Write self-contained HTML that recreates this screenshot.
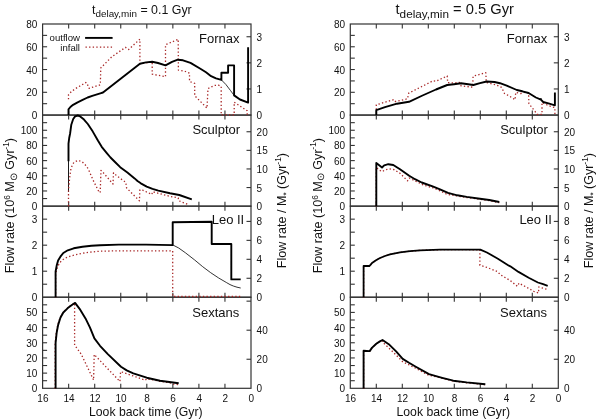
<!DOCTYPE html>
<html><head><meta charset="utf-8"><style>
html,body{margin:0;padding:0;background:#fff;}
svg{display:block;filter:blur(0.3px);}
text{font-family:"Liberation Sans", sans-serif;fill:#111;}
.t{font-size:10.0px;}
.n{font-size:13.0px;}
.xl{font-size:12.25px;}
.lg{font-size:9.6px;}
.ti{font-size:12.4px;}
.sb{font-size:9.9px;}
.yl{font-size:12.6px;}
.sp{font-size:8.2px;}
</style></head><body>
<svg width="600" height="419" viewBox="0 0 600 419">
<rect x="42.6" y="24.0" width="208.4" height="91.07" fill="none" stroke="#333" stroke-width="1.2"/>
<line x1="42.6" y1="103.69" x2="47.1" y2="103.69" stroke="#333" stroke-width="1.1"/>
<line x1="42.6" y1="92.30" x2="47.1" y2="92.30" stroke="#333" stroke-width="1.1"/>
<line x1="42.6" y1="80.92" x2="47.1" y2="80.92" stroke="#333" stroke-width="1.1"/>
<line x1="42.6" y1="69.53" x2="47.1" y2="69.53" stroke="#333" stroke-width="1.1"/>
<line x1="42.6" y1="58.15" x2="47.1" y2="58.15" stroke="#333" stroke-width="1.1"/>
<line x1="42.6" y1="46.77" x2="47.1" y2="46.77" stroke="#333" stroke-width="1.1"/>
<line x1="42.6" y1="35.38" x2="47.1" y2="35.38" stroke="#333" stroke-width="1.1"/>
<text x="37.40" y="119.07" text-anchor="end" class="t">0</text>
<text x="37.40" y="96.30" text-anchor="end" class="t">20</text>
<text x="37.40" y="73.53" text-anchor="end" class="t">40</text>
<text x="37.40" y="50.77" text-anchor="end" class="t">60</text>
<text x="37.40" y="28.00" text-anchor="end" class="t">80</text>
<line x1="246.5" y1="88.96" x2="251.0" y2="88.96" stroke="#333" stroke-width="1.1"/>
<line x1="246.5" y1="62.85" x2="251.0" y2="62.85" stroke="#333" stroke-width="1.1"/>
<line x1="246.5" y1="36.74" x2="251.0" y2="36.74" stroke="#333" stroke-width="1.1"/>
<text x="256.60" y="119.07" class="t">0</text>
<text x="256.60" y="92.96" class="t">1</text>
<text x="256.60" y="66.85" class="t">2</text>
<text x="256.60" y="40.74" class="t">3</text>
<line x1="224.95" y1="115.07" x2="224.95" y2="110.57" stroke="#333" stroke-width="1.1"/>
<line x1="224.95" y1="24.0" x2="224.95" y2="28.5" stroke="#333" stroke-width="1.1"/>
<line x1="198.90" y1="115.07" x2="198.90" y2="110.57" stroke="#333" stroke-width="1.1"/>
<line x1="198.90" y1="24.0" x2="198.90" y2="28.5" stroke="#333" stroke-width="1.1"/>
<line x1="172.85" y1="115.07" x2="172.85" y2="110.57" stroke="#333" stroke-width="1.1"/>
<line x1="172.85" y1="24.0" x2="172.85" y2="28.5" stroke="#333" stroke-width="1.1"/>
<line x1="146.80" y1="115.07" x2="146.80" y2="110.57" stroke="#333" stroke-width="1.1"/>
<line x1="146.80" y1="24.0" x2="146.80" y2="28.5" stroke="#333" stroke-width="1.1"/>
<line x1="120.75" y1="115.07" x2="120.75" y2="110.57" stroke="#333" stroke-width="1.1"/>
<line x1="120.75" y1="24.0" x2="120.75" y2="28.5" stroke="#333" stroke-width="1.1"/>
<line x1="94.70" y1="115.07" x2="94.70" y2="110.57" stroke="#333" stroke-width="1.1"/>
<line x1="94.70" y1="24.0" x2="94.70" y2="28.5" stroke="#333" stroke-width="1.1"/>
<line x1="68.65" y1="115.07" x2="68.65" y2="110.57" stroke="#333" stroke-width="1.1"/>
<line x1="68.65" y1="24.0" x2="68.65" y2="28.5" stroke="#333" stroke-width="1.1"/>
<text x="199.00" y="43.00" class="n">Fornax</text>
<rect x="42.6" y="115.08" width="208.4" height="91.07" fill="none" stroke="#333" stroke-width="1.2"/>
<line x1="42.6" y1="198.56" x2="47.1" y2="198.56" stroke="#333" stroke-width="1.1"/>
<line x1="42.6" y1="190.97" x2="47.1" y2="190.97" stroke="#333" stroke-width="1.1"/>
<line x1="42.6" y1="183.38" x2="47.1" y2="183.38" stroke="#333" stroke-width="1.1"/>
<line x1="42.6" y1="175.79" x2="47.1" y2="175.79" stroke="#333" stroke-width="1.1"/>
<line x1="42.6" y1="168.20" x2="47.1" y2="168.20" stroke="#333" stroke-width="1.1"/>
<line x1="42.6" y1="160.61" x2="47.1" y2="160.61" stroke="#333" stroke-width="1.1"/>
<line x1="42.6" y1="153.03" x2="47.1" y2="153.03" stroke="#333" stroke-width="1.1"/>
<line x1="42.6" y1="145.44" x2="47.1" y2="145.44" stroke="#333" stroke-width="1.1"/>
<line x1="42.6" y1="137.85" x2="47.1" y2="137.85" stroke="#333" stroke-width="1.1"/>
<line x1="42.6" y1="130.26" x2="47.1" y2="130.26" stroke="#333" stroke-width="1.1"/>
<line x1="42.6" y1="122.67" x2="47.1" y2="122.67" stroke="#333" stroke-width="1.1"/>
<text x="37.40" y="210.15" text-anchor="end" class="t">0</text>
<text x="37.40" y="194.97" text-anchor="end" class="t">20</text>
<text x="37.40" y="179.79" text-anchor="end" class="t">40</text>
<text x="37.40" y="164.61" text-anchor="end" class="t">60</text>
<text x="37.40" y="149.44" text-anchor="end" class="t">80</text>
<text x="37.40" y="134.26" text-anchor="end" class="t">100</text>
<line x1="246.5" y1="187.55" x2="251.0" y2="187.55" stroke="#333" stroke-width="1.1"/>
<line x1="246.5" y1="168.95" x2="251.0" y2="168.95" stroke="#333" stroke-width="1.1"/>
<line x1="246.5" y1="150.35" x2="251.0" y2="150.35" stroke="#333" stroke-width="1.1"/>
<line x1="246.5" y1="131.75" x2="251.0" y2="131.75" stroke="#333" stroke-width="1.1"/>
<text x="256.60" y="210.15" class="t">0</text>
<text x="256.60" y="191.55" class="t">5</text>
<text x="256.60" y="172.95" class="t">10</text>
<text x="256.60" y="154.35" class="t">15</text>
<text x="256.60" y="135.75" class="t">20</text>
<line x1="224.95" y1="206.14999999999998" x2="224.95" y2="201.64999999999998" stroke="#333" stroke-width="1.1"/>
<line x1="224.95" y1="115.08" x2="224.95" y2="119.58" stroke="#333" stroke-width="1.1"/>
<line x1="198.90" y1="206.14999999999998" x2="198.90" y2="201.64999999999998" stroke="#333" stroke-width="1.1"/>
<line x1="198.90" y1="115.08" x2="198.90" y2="119.58" stroke="#333" stroke-width="1.1"/>
<line x1="172.85" y1="206.14999999999998" x2="172.85" y2="201.64999999999998" stroke="#333" stroke-width="1.1"/>
<line x1="172.85" y1="115.08" x2="172.85" y2="119.58" stroke="#333" stroke-width="1.1"/>
<line x1="146.80" y1="206.14999999999998" x2="146.80" y2="201.64999999999998" stroke="#333" stroke-width="1.1"/>
<line x1="146.80" y1="115.08" x2="146.80" y2="119.58" stroke="#333" stroke-width="1.1"/>
<line x1="120.75" y1="206.14999999999998" x2="120.75" y2="201.64999999999998" stroke="#333" stroke-width="1.1"/>
<line x1="120.75" y1="115.08" x2="120.75" y2="119.58" stroke="#333" stroke-width="1.1"/>
<line x1="94.70" y1="206.14999999999998" x2="94.70" y2="201.64999999999998" stroke="#333" stroke-width="1.1"/>
<line x1="94.70" y1="115.08" x2="94.70" y2="119.58" stroke="#333" stroke-width="1.1"/>
<line x1="68.65" y1="206.14999999999998" x2="68.65" y2="201.64999999999998" stroke="#333" stroke-width="1.1"/>
<line x1="68.65" y1="115.08" x2="68.65" y2="119.58" stroke="#333" stroke-width="1.1"/>
<text x="192.45" y="134.38" class="n">Sculptor</text>
<rect x="42.6" y="206.15" width="208.4" height="91.07" fill="none" stroke="#333" stroke-width="1.2"/>
<line x1="42.6" y1="284.21" x2="47.1" y2="284.21" stroke="#333" stroke-width="1.1"/>
<line x1="42.6" y1="271.20" x2="47.1" y2="271.20" stroke="#333" stroke-width="1.1"/>
<line x1="42.6" y1="258.19" x2="47.1" y2="258.19" stroke="#333" stroke-width="1.1"/>
<line x1="42.6" y1="245.18" x2="47.1" y2="245.18" stroke="#333" stroke-width="1.1"/>
<line x1="42.6" y1="232.17" x2="47.1" y2="232.17" stroke="#333" stroke-width="1.1"/>
<line x1="42.6" y1="219.16" x2="47.1" y2="219.16" stroke="#333" stroke-width="1.1"/>
<text x="37.40" y="301.22" text-anchor="end" class="t">0</text>
<text x="37.40" y="275.20" text-anchor="end" class="t">1</text>
<text x="37.40" y="249.18" text-anchor="end" class="t">2</text>
<text x="37.40" y="223.16" text-anchor="end" class="t">3</text>
<line x1="246.5" y1="278.27" x2="251.0" y2="278.27" stroke="#333" stroke-width="1.1"/>
<line x1="246.5" y1="259.31" x2="251.0" y2="259.31" stroke="#333" stroke-width="1.1"/>
<line x1="246.5" y1="240.36" x2="251.0" y2="240.36" stroke="#333" stroke-width="1.1"/>
<line x1="246.5" y1="221.41" x2="251.0" y2="221.41" stroke="#333" stroke-width="1.1"/>
<text x="256.60" y="301.22" class="t">0</text>
<text x="256.60" y="282.27" class="t">2</text>
<text x="256.60" y="263.31" class="t">4</text>
<text x="256.60" y="244.36" class="t">6</text>
<text x="256.60" y="225.41" class="t">8</text>
<line x1="224.95" y1="297.22" x2="224.95" y2="292.72" stroke="#333" stroke-width="1.1"/>
<line x1="224.95" y1="206.15" x2="224.95" y2="210.65" stroke="#333" stroke-width="1.1"/>
<line x1="198.90" y1="297.22" x2="198.90" y2="292.72" stroke="#333" stroke-width="1.1"/>
<line x1="198.90" y1="206.15" x2="198.90" y2="210.65" stroke="#333" stroke-width="1.1"/>
<line x1="172.85" y1="297.22" x2="172.85" y2="292.72" stroke="#333" stroke-width="1.1"/>
<line x1="172.85" y1="206.15" x2="172.85" y2="210.65" stroke="#333" stroke-width="1.1"/>
<line x1="146.80" y1="297.22" x2="146.80" y2="292.72" stroke="#333" stroke-width="1.1"/>
<line x1="146.80" y1="206.15" x2="146.80" y2="210.65" stroke="#333" stroke-width="1.1"/>
<line x1="120.75" y1="297.22" x2="120.75" y2="292.72" stroke="#333" stroke-width="1.1"/>
<line x1="120.75" y1="206.15" x2="120.75" y2="210.65" stroke="#333" stroke-width="1.1"/>
<line x1="94.70" y1="297.22" x2="94.70" y2="292.72" stroke="#333" stroke-width="1.1"/>
<line x1="94.70" y1="206.15" x2="94.70" y2="210.65" stroke="#333" stroke-width="1.1"/>
<line x1="68.65" y1="297.22" x2="68.65" y2="292.72" stroke="#333" stroke-width="1.1"/>
<line x1="68.65" y1="206.15" x2="68.65" y2="210.65" stroke="#333" stroke-width="1.1"/>
<text x="211.70" y="223.80" class="n">Leo II</text>
<rect x="42.6" y="297.23" width="208.4" height="91.07" fill="none" stroke="#333" stroke-width="1.2"/>
<line x1="42.6" y1="380.71" x2="47.1" y2="380.71" stroke="#333" stroke-width="1.1"/>
<line x1="42.6" y1="373.12" x2="47.1" y2="373.12" stroke="#333" stroke-width="1.1"/>
<line x1="42.6" y1="365.53" x2="47.1" y2="365.53" stroke="#333" stroke-width="1.1"/>
<line x1="42.6" y1="357.94" x2="47.1" y2="357.94" stroke="#333" stroke-width="1.1"/>
<line x1="42.6" y1="350.35" x2="47.1" y2="350.35" stroke="#333" stroke-width="1.1"/>
<line x1="42.6" y1="342.76" x2="47.1" y2="342.76" stroke="#333" stroke-width="1.1"/>
<line x1="42.6" y1="335.18" x2="47.1" y2="335.18" stroke="#333" stroke-width="1.1"/>
<line x1="42.6" y1="327.59" x2="47.1" y2="327.59" stroke="#333" stroke-width="1.1"/>
<line x1="42.6" y1="320.00" x2="47.1" y2="320.00" stroke="#333" stroke-width="1.1"/>
<line x1="42.6" y1="312.41" x2="47.1" y2="312.41" stroke="#333" stroke-width="1.1"/>
<line x1="42.6" y1="304.82" x2="47.1" y2="304.82" stroke="#333" stroke-width="1.1"/>
<text x="37.40" y="392.30" text-anchor="end" class="t">0</text>
<text x="37.40" y="377.12" text-anchor="end" class="t">10</text>
<text x="37.40" y="361.94" text-anchor="end" class="t">20</text>
<text x="37.40" y="346.76" text-anchor="end" class="t">30</text>
<text x="37.40" y="331.59" text-anchor="end" class="t">40</text>
<text x="37.40" y="316.41" text-anchor="end" class="t">50</text>
<line x1="246.5" y1="359.25" x2="251.0" y2="359.25" stroke="#333" stroke-width="1.1"/>
<line x1="246.5" y1="330.20" x2="251.0" y2="330.20" stroke="#333" stroke-width="1.1"/>
<line x1="246.5" y1="301.15" x2="251.0" y2="301.15" stroke="#333" stroke-width="1.1"/>
<text x="256.60" y="392.30" class="t">0</text>
<text x="256.60" y="363.25" class="t">20</text>
<text x="256.60" y="334.20" class="t">40</text>
<line x1="224.95" y1="388.3" x2="224.95" y2="383.8" stroke="#333" stroke-width="1.1"/>
<line x1="224.95" y1="297.23" x2="224.95" y2="301.73" stroke="#333" stroke-width="1.1"/>
<line x1="198.90" y1="388.3" x2="198.90" y2="383.8" stroke="#333" stroke-width="1.1"/>
<line x1="198.90" y1="297.23" x2="198.90" y2="301.73" stroke="#333" stroke-width="1.1"/>
<line x1="172.85" y1="388.3" x2="172.85" y2="383.8" stroke="#333" stroke-width="1.1"/>
<line x1="172.85" y1="297.23" x2="172.85" y2="301.73" stroke="#333" stroke-width="1.1"/>
<line x1="146.80" y1="388.3" x2="146.80" y2="383.8" stroke="#333" stroke-width="1.1"/>
<line x1="146.80" y1="297.23" x2="146.80" y2="301.73" stroke="#333" stroke-width="1.1"/>
<line x1="120.75" y1="388.3" x2="120.75" y2="383.8" stroke="#333" stroke-width="1.1"/>
<line x1="120.75" y1="297.23" x2="120.75" y2="301.73" stroke="#333" stroke-width="1.1"/>
<line x1="94.70" y1="388.3" x2="94.70" y2="383.8" stroke="#333" stroke-width="1.1"/>
<line x1="94.70" y1="297.23" x2="94.70" y2="301.73" stroke="#333" stroke-width="1.1"/>
<line x1="68.65" y1="388.3" x2="68.65" y2="383.8" stroke="#333" stroke-width="1.1"/>
<line x1="68.65" y1="297.23" x2="68.65" y2="301.73" stroke="#333" stroke-width="1.1"/>
<text x="192.35" y="317.13" class="n">Sextans</text>
<text x="251.30" y="401.50" text-anchor="middle" class="t">0</text>
<text x="225.25" y="401.50" text-anchor="middle" class="t">2</text>
<text x="199.20" y="401.50" text-anchor="middle" class="t">4</text>
<text x="173.15" y="401.50" text-anchor="middle" class="t">6</text>
<text x="147.10" y="401.50" text-anchor="middle" class="t">8</text>
<text x="121.05" y="401.50" text-anchor="middle" class="t">10</text>
<text x="95.00" y="401.50" text-anchor="middle" class="t">12</text>
<text x="68.95" y="401.50" text-anchor="middle" class="t">14</text>
<text x="42.90" y="401.50" text-anchor="middle" class="t">16</text>
<text x="145.80" y="416.3" text-anchor="middle" class="xl">Look back time (Gyr)</text>
<text x="92.00" y="14.4" class="ti" style="font-size:12.4px">t<tspan class="sb" style="font-size:9.9px" dy="2.8">delay,min</tspan><tspan dy="-2.8"> = 0.1 Gyr</tspan></text>
<text transform="translate(14.30,205.6) rotate(-90)" text-anchor="middle" class="yl">Flow rate (10<tspan class="sp" dy="-4">6</tspan><tspan dy="4"> M</tspan><tspan class="sp" style="font-size:9.6px" dy="2.2">⊙</tspan><tspan dy="-2.2"> Gyr</tspan><tspan class="sp" dy="-5.5">-1</tspan><tspan dy="5.5">)</tspan></text>
<text transform="translate(286.00,210.6) rotate(-90)" text-anchor="middle" class="yl" style="font-size:12.55px">Flow rate / M<tspan class="sp" dy="2.5">*</tspan><tspan dy="-2.5"> (Gyr</tspan><tspan class="sp" dy="-5.5">-1</tspan><tspan dy="5.5">)</tspan></text>
<rect x="350.3" y="24.0" width="208.0" height="91.07" fill="none" stroke="#333" stroke-width="1.2"/>
<line x1="350.3" y1="103.69" x2="354.8" y2="103.69" stroke="#333" stroke-width="1.1"/>
<line x1="350.3" y1="92.30" x2="354.8" y2="92.30" stroke="#333" stroke-width="1.1"/>
<line x1="350.3" y1="80.92" x2="354.8" y2="80.92" stroke="#333" stroke-width="1.1"/>
<line x1="350.3" y1="69.53" x2="354.8" y2="69.53" stroke="#333" stroke-width="1.1"/>
<line x1="350.3" y1="58.15" x2="354.8" y2="58.15" stroke="#333" stroke-width="1.1"/>
<line x1="350.3" y1="46.77" x2="354.8" y2="46.77" stroke="#333" stroke-width="1.1"/>
<line x1="350.3" y1="35.38" x2="354.8" y2="35.38" stroke="#333" stroke-width="1.1"/>
<text x="345.10" y="119.07" text-anchor="end" class="t">0</text>
<text x="345.10" y="96.30" text-anchor="end" class="t">20</text>
<text x="345.10" y="73.53" text-anchor="end" class="t">40</text>
<text x="345.10" y="50.77" text-anchor="end" class="t">60</text>
<text x="345.10" y="28.00" text-anchor="end" class="t">80</text>
<line x1="553.8" y1="88.96" x2="558.3" y2="88.96" stroke="#333" stroke-width="1.1"/>
<line x1="553.8" y1="62.85" x2="558.3" y2="62.85" stroke="#333" stroke-width="1.1"/>
<line x1="553.8" y1="36.74" x2="558.3" y2="36.74" stroke="#333" stroke-width="1.1"/>
<text x="563.90" y="119.07" class="t">0</text>
<text x="563.90" y="92.96" class="t">1</text>
<text x="563.90" y="66.85" class="t">2</text>
<text x="563.90" y="40.74" class="t">3</text>
<line x1="532.30" y1="115.07" x2="532.30" y2="110.57" stroke="#333" stroke-width="1.1"/>
<line x1="532.30" y1="24.0" x2="532.30" y2="28.5" stroke="#333" stroke-width="1.1"/>
<line x1="506.30" y1="115.07" x2="506.30" y2="110.57" stroke="#333" stroke-width="1.1"/>
<line x1="506.30" y1="24.0" x2="506.30" y2="28.5" stroke="#333" stroke-width="1.1"/>
<line x1="480.30" y1="115.07" x2="480.30" y2="110.57" stroke="#333" stroke-width="1.1"/>
<line x1="480.30" y1="24.0" x2="480.30" y2="28.5" stroke="#333" stroke-width="1.1"/>
<line x1="454.30" y1="115.07" x2="454.30" y2="110.57" stroke="#333" stroke-width="1.1"/>
<line x1="454.30" y1="24.0" x2="454.30" y2="28.5" stroke="#333" stroke-width="1.1"/>
<line x1="428.30" y1="115.07" x2="428.30" y2="110.57" stroke="#333" stroke-width="1.1"/>
<line x1="428.30" y1="24.0" x2="428.30" y2="28.5" stroke="#333" stroke-width="1.1"/>
<line x1="402.30" y1="115.07" x2="402.30" y2="110.57" stroke="#333" stroke-width="1.1"/>
<line x1="402.30" y1="24.0" x2="402.30" y2="28.5" stroke="#333" stroke-width="1.1"/>
<line x1="376.30" y1="115.07" x2="376.30" y2="110.57" stroke="#333" stroke-width="1.1"/>
<line x1="376.30" y1="24.0" x2="376.30" y2="28.5" stroke="#333" stroke-width="1.1"/>
<text x="506.70" y="43.00" class="n">Fornax</text>
<rect x="350.3" y="115.08" width="208.0" height="91.07" fill="none" stroke="#333" stroke-width="1.2"/>
<line x1="350.3" y1="198.56" x2="354.8" y2="198.56" stroke="#333" stroke-width="1.1"/>
<line x1="350.3" y1="190.97" x2="354.8" y2="190.97" stroke="#333" stroke-width="1.1"/>
<line x1="350.3" y1="183.38" x2="354.8" y2="183.38" stroke="#333" stroke-width="1.1"/>
<line x1="350.3" y1="175.79" x2="354.8" y2="175.79" stroke="#333" stroke-width="1.1"/>
<line x1="350.3" y1="168.20" x2="354.8" y2="168.20" stroke="#333" stroke-width="1.1"/>
<line x1="350.3" y1="160.61" x2="354.8" y2="160.61" stroke="#333" stroke-width="1.1"/>
<line x1="350.3" y1="153.03" x2="354.8" y2="153.03" stroke="#333" stroke-width="1.1"/>
<line x1="350.3" y1="145.44" x2="354.8" y2="145.44" stroke="#333" stroke-width="1.1"/>
<line x1="350.3" y1="137.85" x2="354.8" y2="137.85" stroke="#333" stroke-width="1.1"/>
<line x1="350.3" y1="130.26" x2="354.8" y2="130.26" stroke="#333" stroke-width="1.1"/>
<line x1="350.3" y1="122.67" x2="354.8" y2="122.67" stroke="#333" stroke-width="1.1"/>
<text x="345.10" y="210.15" text-anchor="end" class="t">0</text>
<text x="345.10" y="194.97" text-anchor="end" class="t">20</text>
<text x="345.10" y="179.79" text-anchor="end" class="t">40</text>
<text x="345.10" y="164.61" text-anchor="end" class="t">60</text>
<text x="345.10" y="149.44" text-anchor="end" class="t">80</text>
<text x="345.10" y="134.26" text-anchor="end" class="t">100</text>
<line x1="553.8" y1="187.55" x2="558.3" y2="187.55" stroke="#333" stroke-width="1.1"/>
<line x1="553.8" y1="168.95" x2="558.3" y2="168.95" stroke="#333" stroke-width="1.1"/>
<line x1="553.8" y1="150.35" x2="558.3" y2="150.35" stroke="#333" stroke-width="1.1"/>
<line x1="553.8" y1="131.75" x2="558.3" y2="131.75" stroke="#333" stroke-width="1.1"/>
<text x="563.90" y="210.15" class="t">0</text>
<text x="563.90" y="191.55" class="t">5</text>
<text x="563.90" y="172.95" class="t">10</text>
<text x="563.90" y="154.35" class="t">15</text>
<text x="563.90" y="135.75" class="t">20</text>
<line x1="532.30" y1="206.14999999999998" x2="532.30" y2="201.64999999999998" stroke="#333" stroke-width="1.1"/>
<line x1="532.30" y1="115.08" x2="532.30" y2="119.58" stroke="#333" stroke-width="1.1"/>
<line x1="506.30" y1="206.14999999999998" x2="506.30" y2="201.64999999999998" stroke="#333" stroke-width="1.1"/>
<line x1="506.30" y1="115.08" x2="506.30" y2="119.58" stroke="#333" stroke-width="1.1"/>
<line x1="480.30" y1="206.14999999999998" x2="480.30" y2="201.64999999999998" stroke="#333" stroke-width="1.1"/>
<line x1="480.30" y1="115.08" x2="480.30" y2="119.58" stroke="#333" stroke-width="1.1"/>
<line x1="454.30" y1="206.14999999999998" x2="454.30" y2="201.64999999999998" stroke="#333" stroke-width="1.1"/>
<line x1="454.30" y1="115.08" x2="454.30" y2="119.58" stroke="#333" stroke-width="1.1"/>
<line x1="428.30" y1="206.14999999999998" x2="428.30" y2="201.64999999999998" stroke="#333" stroke-width="1.1"/>
<line x1="428.30" y1="115.08" x2="428.30" y2="119.58" stroke="#333" stroke-width="1.1"/>
<line x1="402.30" y1="206.14999999999998" x2="402.30" y2="201.64999999999998" stroke="#333" stroke-width="1.1"/>
<line x1="402.30" y1="115.08" x2="402.30" y2="119.58" stroke="#333" stroke-width="1.1"/>
<line x1="376.30" y1="206.14999999999998" x2="376.30" y2="201.64999999999998" stroke="#333" stroke-width="1.1"/>
<line x1="376.30" y1="115.08" x2="376.30" y2="119.58" stroke="#333" stroke-width="1.1"/>
<text x="500.15" y="134.38" class="n">Sculptor</text>
<rect x="350.3" y="206.15" width="208.0" height="91.07" fill="none" stroke="#333" stroke-width="1.2"/>
<line x1="350.3" y1="284.21" x2="354.8" y2="284.21" stroke="#333" stroke-width="1.1"/>
<line x1="350.3" y1="271.20" x2="354.8" y2="271.20" stroke="#333" stroke-width="1.1"/>
<line x1="350.3" y1="258.19" x2="354.8" y2="258.19" stroke="#333" stroke-width="1.1"/>
<line x1="350.3" y1="245.18" x2="354.8" y2="245.18" stroke="#333" stroke-width="1.1"/>
<line x1="350.3" y1="232.17" x2="354.8" y2="232.17" stroke="#333" stroke-width="1.1"/>
<line x1="350.3" y1="219.16" x2="354.8" y2="219.16" stroke="#333" stroke-width="1.1"/>
<text x="345.10" y="301.22" text-anchor="end" class="t">0</text>
<text x="345.10" y="275.20" text-anchor="end" class="t">1</text>
<text x="345.10" y="249.18" text-anchor="end" class="t">2</text>
<text x="345.10" y="223.16" text-anchor="end" class="t">3</text>
<line x1="553.8" y1="278.27" x2="558.3" y2="278.27" stroke="#333" stroke-width="1.1"/>
<line x1="553.8" y1="259.31" x2="558.3" y2="259.31" stroke="#333" stroke-width="1.1"/>
<line x1="553.8" y1="240.36" x2="558.3" y2="240.36" stroke="#333" stroke-width="1.1"/>
<line x1="553.8" y1="221.41" x2="558.3" y2="221.41" stroke="#333" stroke-width="1.1"/>
<text x="563.90" y="301.22" class="t">0</text>
<text x="563.90" y="282.27" class="t">2</text>
<text x="563.90" y="263.31" class="t">4</text>
<text x="563.90" y="244.36" class="t">6</text>
<text x="563.90" y="225.41" class="t">8</text>
<line x1="532.30" y1="297.22" x2="532.30" y2="292.72" stroke="#333" stroke-width="1.1"/>
<line x1="532.30" y1="206.15" x2="532.30" y2="210.65" stroke="#333" stroke-width="1.1"/>
<line x1="506.30" y1="297.22" x2="506.30" y2="292.72" stroke="#333" stroke-width="1.1"/>
<line x1="506.30" y1="206.15" x2="506.30" y2="210.65" stroke="#333" stroke-width="1.1"/>
<line x1="480.30" y1="297.22" x2="480.30" y2="292.72" stroke="#333" stroke-width="1.1"/>
<line x1="480.30" y1="206.15" x2="480.30" y2="210.65" stroke="#333" stroke-width="1.1"/>
<line x1="454.30" y1="297.22" x2="454.30" y2="292.72" stroke="#333" stroke-width="1.1"/>
<line x1="454.30" y1="206.15" x2="454.30" y2="210.65" stroke="#333" stroke-width="1.1"/>
<line x1="428.30" y1="297.22" x2="428.30" y2="292.72" stroke="#333" stroke-width="1.1"/>
<line x1="428.30" y1="206.15" x2="428.30" y2="210.65" stroke="#333" stroke-width="1.1"/>
<line x1="402.30" y1="297.22" x2="402.30" y2="292.72" stroke="#333" stroke-width="1.1"/>
<line x1="402.30" y1="206.15" x2="402.30" y2="210.65" stroke="#333" stroke-width="1.1"/>
<line x1="376.30" y1="297.22" x2="376.30" y2="292.72" stroke="#333" stroke-width="1.1"/>
<line x1="376.30" y1="206.15" x2="376.30" y2="210.65" stroke="#333" stroke-width="1.1"/>
<text x="519.40" y="223.80" class="n">Leo II</text>
<rect x="350.3" y="297.23" width="208.0" height="91.07" fill="none" stroke="#333" stroke-width="1.2"/>
<line x1="350.3" y1="380.71" x2="354.8" y2="380.71" stroke="#333" stroke-width="1.1"/>
<line x1="350.3" y1="373.12" x2="354.8" y2="373.12" stroke="#333" stroke-width="1.1"/>
<line x1="350.3" y1="365.53" x2="354.8" y2="365.53" stroke="#333" stroke-width="1.1"/>
<line x1="350.3" y1="357.94" x2="354.8" y2="357.94" stroke="#333" stroke-width="1.1"/>
<line x1="350.3" y1="350.35" x2="354.8" y2="350.35" stroke="#333" stroke-width="1.1"/>
<line x1="350.3" y1="342.76" x2="354.8" y2="342.76" stroke="#333" stroke-width="1.1"/>
<line x1="350.3" y1="335.18" x2="354.8" y2="335.18" stroke="#333" stroke-width="1.1"/>
<line x1="350.3" y1="327.59" x2="354.8" y2="327.59" stroke="#333" stroke-width="1.1"/>
<line x1="350.3" y1="320.00" x2="354.8" y2="320.00" stroke="#333" stroke-width="1.1"/>
<line x1="350.3" y1="312.41" x2="354.8" y2="312.41" stroke="#333" stroke-width="1.1"/>
<line x1="350.3" y1="304.82" x2="354.8" y2="304.82" stroke="#333" stroke-width="1.1"/>
<text x="345.10" y="392.30" text-anchor="end" class="t">0</text>
<text x="345.10" y="377.12" text-anchor="end" class="t">10</text>
<text x="345.10" y="361.94" text-anchor="end" class="t">20</text>
<text x="345.10" y="346.76" text-anchor="end" class="t">30</text>
<text x="345.10" y="331.59" text-anchor="end" class="t">40</text>
<text x="345.10" y="316.41" text-anchor="end" class="t">50</text>
<line x1="553.8" y1="359.25" x2="558.3" y2="359.25" stroke="#333" stroke-width="1.1"/>
<line x1="553.8" y1="330.20" x2="558.3" y2="330.20" stroke="#333" stroke-width="1.1"/>
<line x1="553.8" y1="301.15" x2="558.3" y2="301.15" stroke="#333" stroke-width="1.1"/>
<text x="563.90" y="392.30" class="t">0</text>
<text x="563.90" y="363.25" class="t">20</text>
<text x="563.90" y="334.20" class="t">40</text>
<line x1="532.30" y1="388.3" x2="532.30" y2="383.8" stroke="#333" stroke-width="1.1"/>
<line x1="532.30" y1="297.23" x2="532.30" y2="301.73" stroke="#333" stroke-width="1.1"/>
<line x1="506.30" y1="388.3" x2="506.30" y2="383.8" stroke="#333" stroke-width="1.1"/>
<line x1="506.30" y1="297.23" x2="506.30" y2="301.73" stroke="#333" stroke-width="1.1"/>
<line x1="480.30" y1="388.3" x2="480.30" y2="383.8" stroke="#333" stroke-width="1.1"/>
<line x1="480.30" y1="297.23" x2="480.30" y2="301.73" stroke="#333" stroke-width="1.1"/>
<line x1="454.30" y1="388.3" x2="454.30" y2="383.8" stroke="#333" stroke-width="1.1"/>
<line x1="454.30" y1="297.23" x2="454.30" y2="301.73" stroke="#333" stroke-width="1.1"/>
<line x1="428.30" y1="388.3" x2="428.30" y2="383.8" stroke="#333" stroke-width="1.1"/>
<line x1="428.30" y1="297.23" x2="428.30" y2="301.73" stroke="#333" stroke-width="1.1"/>
<line x1="402.30" y1="388.3" x2="402.30" y2="383.8" stroke="#333" stroke-width="1.1"/>
<line x1="402.30" y1="297.23" x2="402.30" y2="301.73" stroke="#333" stroke-width="1.1"/>
<line x1="376.30" y1="388.3" x2="376.30" y2="383.8" stroke="#333" stroke-width="1.1"/>
<line x1="376.30" y1="297.23" x2="376.30" y2="301.73" stroke="#333" stroke-width="1.1"/>
<text x="500.05" y="317.13" class="n">Sextans</text>
<text x="558.60" y="401.50" text-anchor="middle" class="t">0</text>
<text x="532.60" y="401.50" text-anchor="middle" class="t">2</text>
<text x="506.60" y="401.50" text-anchor="middle" class="t">4</text>
<text x="480.60" y="401.50" text-anchor="middle" class="t">6</text>
<text x="454.60" y="401.50" text-anchor="middle" class="t">8</text>
<text x="428.60" y="401.50" text-anchor="middle" class="t">10</text>
<text x="402.60" y="401.50" text-anchor="middle" class="t">12</text>
<text x="376.60" y="401.50" text-anchor="middle" class="t">14</text>
<text x="350.60" y="401.50" text-anchor="middle" class="t">16</text>
<text x="453.30" y="416.3" text-anchor="middle" class="xl">Look back time (Gyr)</text>
<text x="395.50" y="14.0" class="ti" style="font-size:14.7px">t<tspan class="sb" style="font-size:11.75px" dy="3.8">delay,min</tspan><tspan dy="-3.8"> = 0.5 Gyr</tspan></text>
<text transform="translate(321.70,205.6) rotate(-90)" text-anchor="middle" class="yl">Flow rate (10<tspan class="sp" dy="-4">6</tspan><tspan dy="4"> M</tspan><tspan class="sp" style="font-size:9.6px" dy="2.2">⊙</tspan><tspan dy="-2.2"> Gyr</tspan><tspan class="sp" dy="-5.5">-1</tspan><tspan dy="5.5">)</tspan></text>
<text transform="translate(593.30,210.6) rotate(-90)" text-anchor="middle" class="yl" style="font-size:12.55px">Flow rate / M<tspan class="sp" dy="2.5">*</tspan><tspan dy="-2.5"> (Gyr</tspan><tspan class="sp" dy="-5.5">-1</tspan><tspan dy="5.5">)</tspan></text>
<text x="80" y="41.3" text-anchor="end" class="lg">outflow</text>
<text x="80" y="50.8" text-anchor="end" class="lg">infall</text>
<path d="M85.1,37.9 L112.6,37.9" fill="none" stroke="#000" stroke-width="1.9" stroke-linejoin="round"/>
<path d="M85.5,47.2 L112.6,47.2" fill="none" stroke="#a82626" stroke-width="1.3" stroke-dasharray="1.35 2.25" stroke-linejoin="round"/>
<path d="M68.5,99.3 L68.5,94.8 L71.3,91.6 L75.8,88.4 L82.1,84.8 L85.8,82.5 L87.6,83.9 L88.0,87.1 L89.4,88.4 L93.0,87.1 L100.3,84.8 L100.8,67.9 L112.0,56.6 L125.5,47.4 L128.6,49.5 L139.9,39.2 L139.9,63.8 L152.2,61.8 L152.2,74.1 L165.5,76.8 L165.5,44.8 L178.2,39.2 L178.4,70.1 L184.4,71.1 L189.5,73.1 L189.5,81.4 L194.7,83.4 L194.7,95.7 L207.0,108.1 L208.0,88.6 L214.2,85.5 L218.3,85.1 L221.2,86.3 L221.2,114.9 L234.2,114.9 L234.2,102.2 L247.2,110.8 L247.2,114.9" fill="none" stroke="#a82626" stroke-width="1.3" stroke-dasharray="1.35 2.25" stroke-linejoin="round"/>
<path d="M68.5,115.1 L68.5,109.3 L70.4,107.0 L73.1,104.8 L77.6,102.3 L82.1,100.2 L87.6,97.5 L93.0,95.7 L100.3,93.4 L103.0,92.5 L139.9,63.8 L146.0,62.4 L152.2,61.8 L158.0,63.0 L165.5,65.3 L172.0,61.8 L177.8,59.7 L183.0,60.3 L190.5,62.9 L200.8,69.0 L206.0,72.3 L211.1,76.2 L216.0,78.4 L221.4,79.9 L221.4,72.7 L228.1,72.7 L228.1,65.4 L234.1,65.4 L234.1,95.4 L240.0,99.5 L248.1,102.6 L248.1,47.3" fill="none" stroke="#000" stroke-width="1.9" stroke-linejoin="round"/>
<path d="M221.4,79.9 L225.9,84.5 L230.4,90.4 L234.1,95.4" fill="none" stroke="#000" stroke-width="0.8" stroke-linejoin="round"/>
<path d="M55.6,297.3 L55.6,274.5 L56.7,269.3 L58.1,265.6 L61.1,261.1 L64.8,258.2 L70.7,256.0 L79.6,253.8 L88.5,252.3 L100.0,251.2 L118.8,250.8 L146.0,250.8 L172.7,250.8 L172.7,296.5 L240.7,296.5" fill="none" stroke="#a82626" stroke-width="1.3" stroke-dasharray="1.35 2.25" stroke-linejoin="round"/>
<path d="M172.7,244.9 L178.7,248.0 L185.3,252.7 L194.7,260.0 L202.7,266.7 L210.7,272.7 L218.7,278.0 L226.7,282.7 L230.0,284.6 L233.3,286.0 L237.0,287.2 L240.7,288.0" fill="none" stroke="#000" stroke-width="0.8" stroke-linejoin="round"/>
<path d="M55.6,297.3 L55.6,271.5 L56.7,265.6 L58.1,260.4 L60.4,256.7 L63.3,253.0 L67.8,250.3 L73.7,248.3 L82.5,246.7 L91.4,245.8 L100.0,245.2 L118.8,244.6 L146.0,244.6 L172.7,245.1 L172.7,222.3 L211.7,221.8 L211.7,244.0 L231.3,244.0 L231.3,279.4 L240.7,279.4" fill="none" stroke="#000" stroke-width="1.9" stroke-linejoin="round"/>
<path d="M55.2,388.4 L55.2,342.9 L56.3,332.5 L57.7,325.1 L60.0,317.7 L62.9,312.5 L67.4,308.1 L71.8,304.7 L74.6,302.9 L74.6,345.1 L81.1,354.0 L93.6,380.0 L94.2,354.5 L119.9,381.5 L120.6,371.6 L133.3,376.0 L145.3,380.3 L146.7,378.7 L160.0,381.3 L170.7,383.0 L172.7,384.0 L178.7,384.7" fill="none" stroke="#a82626" stroke-width="1.3" stroke-dasharray="1.35 2.25" stroke-linejoin="round"/>
<path d="M55.6,388.4 L55.6,342.9 L56.7,332.5 L58.1,325.1 L60.4,317.7 L63.3,312.5 L67.8,308.1 L72.2,304.7 L75.1,302.9 L79.6,308.8 L85.5,318.4 L89.9,327.3 L94.4,338.4 L100.0,345.8 L107.8,354.1 L121.0,366.8 L126.7,370.4 L133.3,373.3 L146.7,377.7 L160.0,380.7 L178.7,383.3" fill="none" stroke="#000" stroke-width="1.9" stroke-linejoin="round"/>
<path d="M376.3,109.7 L376.3,104.8 L385.0,102.2 L394.0,99.5 L395.5,101.5 L407.5,98.8 L408.7,93.2 L419.5,87.7 L433.0,80.8 L436.0,81.2 L447.2,76.0 L447.7,82.7 L454.0,82.9 L459.3,82.4 L461.1,85.9 L472.6,87.2 L473.1,76.2 L485.8,72.7 L486.3,82.4 L496.4,85.0 L501.7,87.4 L504.5,93.5 L509.0,95.8 L515.1,99.7 L515.7,92.4 L520.7,93.5 L524.7,92.4 L528.6,93.0 L528.9,103.6 L535.9,112.6 L537.0,114.3 L542.0,114.3 L542.0,102.5 L549.3,105.9 L554.9,107.6 L554.9,114.3" fill="none" stroke="#a82626" stroke-width="1.3" stroke-dasharray="1.35 2.25" stroke-linejoin="round"/>
<path d="M376.3,115.1 L376.3,110.2 L385.0,107.2 L397.0,103.7 L409.0,101.8 L422.5,95.5 L436.0,89.5 L447.2,85.0 L454.0,84.2 L461.1,83.3 L473.4,85.0 L480.0,83.2 L486.7,81.5 L494.6,82.0 L500.0,83.2 L506.7,85.7 L516.8,90.0 L522.4,91.3 L528.6,93.0 L535.9,97.5 L540.9,99.7 L543.2,102.0 L549.3,103.6 L554.9,105.3 L554.9,92.4" fill="none" stroke="#000" stroke-width="1.9" stroke-linejoin="round"/>
<path d="M540.9,99.7 L540.9,98.2" fill="none" stroke="#000" stroke-width="1.6" stroke-linejoin="round"/>
<path d="M376.3,206.2 L376.3,167.5 L379.2,170.0 L382.0,171.7 L385.0,170.0 L389.2,168.8 L394.2,169.7 L400.0,173.3 L407.5,180.8 L409.2,178.0 L415.0,180.8 L423.3,185.0 L433.3,188.0 L440.0,190.8 L446.7,194.2 L457.3,196.0 L466.7,197.5 L480.0,199.3 L489.3,200.7 L499.3,202.7" fill="none" stroke="#a82626" stroke-width="1.3" stroke-dasharray="1.35 2.25" stroke-linejoin="round"/>
<path d="M376.3,206.2 L376.3,163.0 L379.2,165.3 L382.0,167.5 L384.2,165.3 L388.3,164.2 L393.3,165.0 L400.0,169.2 L409.2,175.8 L415.0,179.2 L421.7,182.5 L433.3,186.7 L440.0,189.3 L448.0,192.9 L457.3,195.3 L466.7,196.9 L480.0,198.7 L489.3,200.0 L499.3,202.0" fill="none" stroke="#000" stroke-width="1.9" stroke-linejoin="round"/>
<path d="M363.6,297.3 L363.6,266.0 L369.3,266.0 L370.5,264.8 L372.0,263.0 L376.0,260.2 L380.0,258.0 L385.0,256.0 L390.0,254.4 L395.0,253.3 L400.0,252.4 L410.0,251.2 L420.0,250.4 L440.0,249.7 L454.0,249.6 L479.9,249.8 L479.9,265.2 L486.9,267.4 L497.9,271.8 L500.0,274.5 L510.3,280.6 L517.4,286.3 L519.0,283.2 L526.7,287.3 L533.8,291.4 L538.5,293.0 L538.8,287.0 L547.2,289.4" fill="none" stroke="#a82626" stroke-width="1.3" stroke-dasharray="1.35 2.25" stroke-linejoin="round"/>
<path d="M363.6,297.3 L363.6,266.0 L369.3,266.0 L370.5,264.8 L372.0,263.0 L376.0,260.2 L380.0,258.0 L385.0,256.0 L390.0,254.4 L395.0,253.3 L400.0,252.4 L410.0,251.2 L420.0,250.4 L440.0,249.7 L454.0,249.6 L480.3,249.6 L486.9,252.5 L497.9,258.7 L508.9,265.7 L510.3,266.3 L518.5,271.9 L528.7,277.8 L537.9,282.5 L543.1,284.2 L547.7,285.8" fill="none" stroke="#000" stroke-width="1.8" stroke-linejoin="round"/>
<path d="M363.6,388.4 L363.6,350.8 L369.7,351.1 L371.9,347.9 L376.3,343.7 L379.5,341.6 L382.5,340.0 L382.5,342.0 L392.0,351.0 L402.7,361.7 L415.8,368.3 L427.9,374.9 L440.0,377.6 L453.3,381.1 L466.7,382.8 L485.3,384.7" fill="none" stroke="#a82626" stroke-width="1.3" stroke-dasharray="1.35 2.25" stroke-linejoin="round"/>
<path d="M363.6,388.4 L363.6,350.8 L369.7,351.1 L371.9,347.9 L376.3,343.7 L379.5,341.6 L382.5,340.0 L389.5,344.8 L396.1,351.4 L402.7,358.9 L409.0,362.8 L415.8,366.8 L429.0,374.2 L442.2,377.8 L453.3,380.7 L466.7,382.4 L485.3,384.3" fill="none" stroke="#000" stroke-width="1.9" stroke-linejoin="round"/>
<path d="M68.5,160.0 L68.5,192.0" fill="none" stroke="#000" stroke-width="0.9" stroke-linejoin="round"/>
<path d="M68.5,206.2 L68.5,190.0 L69.7,177.6 L71.0,168.0 L73.8,162.4 L78.0,160.4 L82.1,161.7 L85.0,164.5 L86.7,166.8 L88.2,168.8 L93.0,180.0 L99.4,192.8 L100.2,192.0 L101.0,170.4 L103.4,172.8 L113.0,184.0 L113.5,172.8 L117.0,176.0 L125.8,182.4 L126.6,188.0 L139.4,200.8 L139.9,189.8 L142.6,190.1 L151.9,194.4 L152.5,191.7 L158.3,193.3 L170.0,196.4 L178.2,197.9 L178.8,200.8 L189.3,204.9" fill="none" stroke="#a82626" stroke-width="1.3" stroke-dasharray="1.35 2.25" stroke-linejoin="round"/>
<path d="M68.5,161.2 L68.5,143.6 L69.2,138.0 L70.1,133.5 L71.3,124.7 L73.2,119.0 L75.1,116.4 L77.7,115.5 L80.2,116.4 L84.0,119.6 L87.8,124.0 L92.8,131.6 L97.9,140.5 L101.7,146.8 L106.8,153.1 L110.5,157.5 L115.0,162.0 L120.2,167.2 L127.4,172.6 L134.6,178.4 L137.5,181.0 L140.8,183.3 L146.7,186.6 L152.5,188.9 L158.3,190.6 L170.0,193.3 L179.3,195.0 L191.8,199.4" fill="none" stroke="#000" stroke-width="1.9" stroke-linejoin="round"/>
</svg></body></html>
